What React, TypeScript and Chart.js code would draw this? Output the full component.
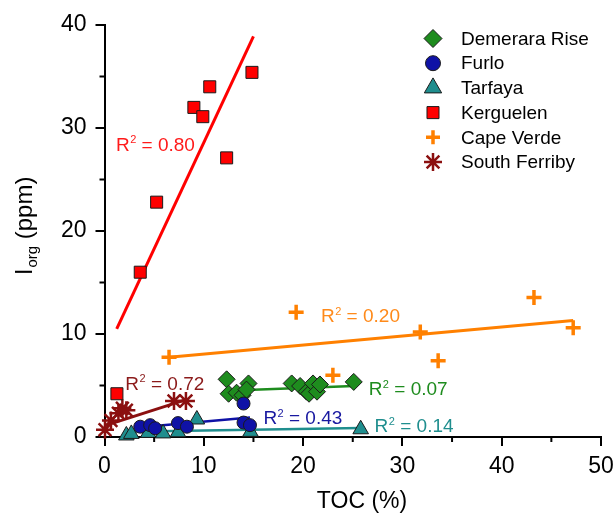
import React, { useEffect, useRef } from 'react';
import { Chart, registerables } from 'chart.js';
import { drawPoint } from 'chart.js/helpers';

Chart.register(...registerables);

const FONT = '"Liberation Sans", Arial, Helvetica, sans-serif';

// ---- axis ticks ----
const xTickLabels = ['0', '10', '20', '30', '40', '50'];
const yTickLabels = ['0', '10', '20', '30', '40'];

// ---- series data (TOC %, I_org ppm) ----
const demeraraX = [12.3, 12.5, 13.3, 13.9, 14.5, 14.3, 18.85, 19.7, 20.35, 20.6, 21.0, 21.4, 21.7, 25.1];
const demeraraY = [5.6, 4.2, 4.3, 4.05, 5.2, 4.6, 5.2, 4.95, 4.4, 4.2, 5.2, 4.4, 5.1, 5.35];

const furloX = [3.6, 4.6, 5.1, 7.4, 8.3, 14.0, 14.0, 14.65];
const furloY = [1.0, 1.15, 0.85, 1.35, 1.0, 3.25, 1.4, 1.15];

const tarfayaX = [2.2, 2.7, 4.4, 5.9, 7.4, 9.3, 14.7, 25.8];
const tarfayaY = [0.15, 0.3, 0.4, 0.35, 0.45, 1.7, 0.5, 0.75];

const kerguelenX = [1.25, 3.6, 5.25, 9.0, 9.9, 10.6, 12.3, 14.85];
const kerguelenY = [4.2, 16.0, 22.8, 32.0, 31.1, 34.0, 27.1, 35.4];

const capeVerdeX = [6.5, 19.3, 23.0, 31.8, 33.6, 43.25, 47.2];
const capeVerdeY = [7.75, 12.1, 6.0, 10.2, 7.4, 13.55, 10.6];

const southFerribyX = [0.05, 0.65, 1.4, 1.8, 2.2, 7.0, 8.2];
const southFerribyY = [0.7, 1.6, 2.3, 2.8, 2.6, 3.5, 3.5];

// ---- regression lines (end points) ----
const demeraraFitX = [12.3, 25.1];
const demeraraFitY = [4.5, 4.95];
const furloFitX = [3.6, 14.65];
const furloFitY = [0.95, 1.9];
const tarfayaFitX = [2.2, 25.8];
const tarfayaFitY = [0.5, 0.88];
const kerguelenFitX = [1.23, 15.0];
const kerguelenFitY = [10.5, 38.9];
const capeVerdeFitX = [6.5, 47.2];
const capeVerdeFitY = [7.75, 11.3];
const southFerribyFitX = [0.05, 8.3];
const southFerribyFitY = [1.1, 3.65];

// ---- R² values ----
const r2Values = ['0.07', '0.43', '0.14', '0.80', '0.20', '0.72'];

const seriesNames = ['Demerara Rise', 'Furlo', 'Tarfaya', 'Kerguelen', 'Cape Verde', 'South Ferriby'];

// styles (not data)
const styles = [
  { color: '#1E8C1E', text: '#1E8C1E', pointStyle: 'rectRot', radius: 8.5, legendRadius: 9, border: '#1a1a1a', borderWidth: 1, lineWidth: 2.5, order: 6 },
  { color: '#0F12A6', text: '#1818A0', pointStyle: 'circle', radius: 6.5, legendRadius: 7.5, border: '#1a1a1a', borderWidth: 1, lineWidth: 2.5, order: 3 },
  { color: '#1F8E8E', text: '#1F8E8E', pointStyle: 'triangle', radius: 9, legendRadius: 10, border: '#1a1a1a', borderWidth: 1, lineWidth: 2.5, order: 4 },
  { color: '#FF0000', text: '#FF1A1A', pointStyle: 'rect', radius: 8.5, legendRadius: 8.5, border: '#1a1a1a', borderWidth: 1, lineWidth: 3, order: 2 },
  { color: '#FF8000', text: '#FF8A1A', pointStyle: 'cross', radius: 7.5, legendRadius: 7, border: '#FF8000', borderWidth: 3.5, lineWidth: 3, order: 1 },
  { color: '#8B1010', text: '#8B1A1A', pointStyle: 'star', radius: 9, legendRadius: 9, border: '#8B1010', borderWidth: 2.5, lineWidth: 3, order: 5 },
];

// label anchors in data units (layout)
const r2Anchors = [
  { x: 26.6, y: 4.05 },
  { x: 16.0, y: 1.25 },
  { x: 27.2, y: 0.5 },
  { x: 1.15, y: 27.8 },
  { x: 21.8, y: 11.15 },
  { x: 2.1, y: 4.6 },
];

const seriesX = [demeraraX, furloX, tarfayaX, kerguelenX, capeVerdeX, southFerribyX];
const seriesY = [demeraraY, furloY, tarfayaY, kerguelenY, capeVerdeY, southFerribyY];
const fitX = [demeraraFitX, furloFitX, tarfayaFitX, kerguelenFitX, capeVerdeFitX, southFerribyFitX];
const fitY = [demeraraFitY, furloFitY, tarfayaFitY, kerguelenFitY, capeVerdeFitY, southFerribyFitY];

const zip = (xs: number[], ys: number[]) => xs.map((x, i) => ({ x, y: ys[i] }));

function drawR2(ctx: CanvasRenderingContext2D, x: number, y: number, value: string, color: string, size: number) {
  ctx.fillStyle = color;
  ctx.textAlign = 'left';
  ctx.textBaseline = 'alphabetic';
  ctx.font = `${size}px ${FONT}`;
  ctx.fillText('R', x, y);
  let w = ctx.measureText('R').width;
  const sup = Math.round(size * 0.6);
  ctx.font = `${sup}px ${FONT}`;
  ctx.fillText('2', x + w + 0.5, y - size * 0.38);
  w += ctx.measureText('2').width + 0.5;
  ctx.font = `${size}px ${FONT}`;
  ctx.fillText(' = ' + value, x + w, y);
}

const decorPlugin = {
  id: 'decor',
  afterDraw(chart: any) {
    const ctx: CanvasRenderingContext2D = chart.ctx;
    const xs = chart.scales.x;
    const ys = chart.scales.y;
    const area = chart.chartArea;
    ctx.save();
    // minor ticks
    ctx.strokeStyle = '#000';
    ctx.lineWidth = 2;
    for (let v = 5; v < 50; v += 10) {
      const px = xs.getPixelForValue(v);
      ctx.beginPath();
      ctx.moveTo(px, area.bottom);
      ctx.lineTo(px, area.bottom + 5);
      ctx.stroke();
    }
    for (let v = 5; v < 40; v += 10) {
      const py = ys.getPixelForValue(v);
      ctx.beginPath();
      ctx.moveTo(area.left, py);
      ctx.lineTo(area.left - 5, py);
      ctx.stroke();
    }
    // R² labels
    for (let i = 0; i < r2Values.length; i++) {
      const a = r2Anchors[i];
      drawR2(ctx, xs.getPixelForValue(a.x), ys.getPixelForValue(a.y), r2Values[i], styles[i].text, 19);
    }
    // x title
    ctx.fillStyle = '#000';
    ctx.font = `23px ${FONT}`;
    ctx.textAlign = 'center';
    ctx.textBaseline = 'alphabetic';
    ctx.fillText('TOC (%)', 362, 508);
    // y title with subscript
    ctx.save();
    ctx.translate(32, 275);
    ctx.rotate(-Math.PI / 2);
    ctx.textAlign = 'left';
    ctx.font = `23px ${FONT}`;
    ctx.fillText('I', 0, 0);
    let w = ctx.measureText('I').width + 1;
    ctx.font = `15px ${FONT}`;
    ctx.fillText('org', w, 5);
    w += ctx.measureText('org').width;
    ctx.font = `24px ${FONT}`;
    ctx.fillText(' (ppm)', w, 0);
    ctx.restore();
    // legend
    const lx = 433, tx = 461, ly0 = 38.5, dy = 24.7;
    for (let i = 0; i < seriesNames.length; i++) {
      const s = styles[i];
      const y = ly0 + i * dy;
      ctx.fillStyle = s.color;
      ctx.strokeStyle = s.border;
      ctx.lineWidth = s.borderWidth;
      drawPoint(ctx, { pointStyle: s.pointStyle as any, radius: s.legendRadius, rotation: 0, borderWidth: s.borderWidth }, lx, y);
      ctx.fillStyle = '#000';
      ctx.font = `19px ${FONT}`;
      ctx.textAlign = 'left';
      ctx.textBaseline = 'middle';
      ctx.fillText(seriesNames[i], tx, y + 1);
    }
    ctx.restore();
  },
};

export default function App() {
  const ref = useRef<HTMLCanvasElement | null>(null);
  useEffect(() => {
    if (!ref.current) return;
    const datasets: any[] = [];
    for (let i = 0; i < seriesNames.length; i++) {
      const s = styles[i];
      datasets.push({
        type: 'scatter',
        label: seriesNames[i],
        data: zip(seriesX[i], seriesY[i]),
        pointStyle: s.pointStyle,
        pointRadius: s.radius,
        backgroundColor: s.color,
        borderColor: s.border,
        borderWidth: s.borderWidth,
        showLine: false,
        clip: false,
        order: s.order,
      });
    }
    for (let i = 0; i < seriesNames.length; i++) {
      const s = styles[i];
      datasets.push({
        type: 'line',
        label: seriesNames[i] + ' fit',
        data: zip(fitX[i], fitY[i]),
        borderColor: s.color,
        borderWidth: s.lineWidth,
        pointRadius: 0,
        fill: false,
        tension: 0,
        clip: false,
        order: 10,
      });
    }
    const chart = new Chart(ref.current, {
      type: 'scatter',
      data: { datasets },
      options: {
        responsive: false,
        animation: false,
        events: [],
        devicePixelRatio: 1,
        layout: { padding: { left: 0, top: 25, right: 15, bottom: 0 } },
        plugins: { legend: { display: false }, tooltip: { enabled: false } },
        scales: {
          x: {
            type: 'linear',
            min: 0,
            max: 50,
            afterFit: (s: any) => { s.height = 78; s.paddingRight = 0; s.paddingLeft = 0; },
            ticks: {
              stepSize: 5,
              autoSkip: false,
              maxRotation: 0,
              padding: 7,
              color: '#000',
              font: { family: FONT, size: 23 },
              callback: (v: any) => (Number(v) % 10 === 0 ? xTickLabels[Number(v) / 10] : ''),
            },
            grid: {
              drawOnChartArea: false,
              drawTicks: true,
              tickLength: 9,
              lineWidth: 2,
              color: (c: any) => (c.tick && c.tick.value % 10 === 0 ? '#000' : 'rgba(0,0,0,0)'),
            },
            border: { display: true, color: '#000', width: 2 },
          },
          y: {
            type: 'linear',
            min: 0,
            max: 40,
            afterFit: (s: any) => { s.width = 104.5; s.paddingTop = 0; s.paddingBottom = 0; },
            ticks: {
              stepSize: 5,
              autoSkip: false,
              padding: 9,
              color: '#000',
              font: { family: FONT, size: 23 },
              callback: (v: any) => (Number(v) % 10 === 0 ? yTickLabels[Number(v) / 10] : ''),
            },
            grid: {
              drawOnChartArea: false,
              drawTicks: true,
              tickLength: 9,
              lineWidth: 2,
              color: (c: any) => (c.tick && c.tick.value % 10 === 0 ? '#000' : 'rgba(0,0,0,0)'),
            },
            border: { display: true, color: '#000', width: 2 },
          },
        },
      },
      plugins: [decorPlugin],
    });
    return () => chart.destroy();
  }, []);
  return (
    <div style={{ position: 'absolute', left: 0, top: 0, width: 616, height: 515, background: '#fff' }}>
      <canvas ref={ref} width={616} height={515} style={{ display: 'block' }} />
    </div>
  );
}
